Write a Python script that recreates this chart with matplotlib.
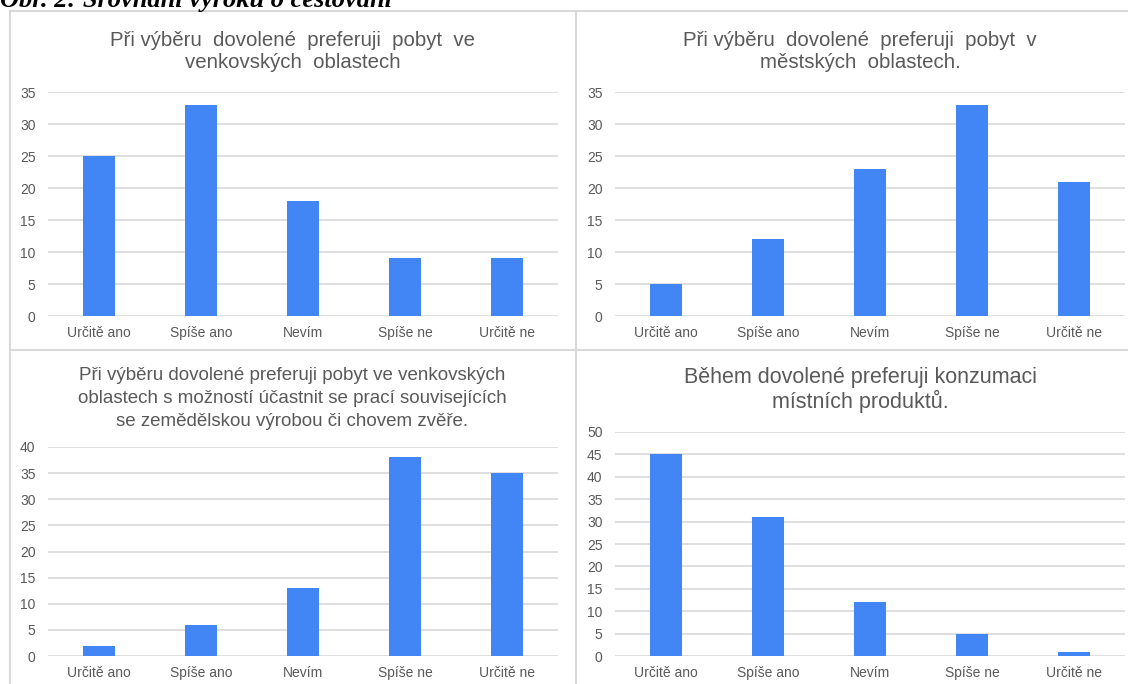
import matplotlib as mpl
import matplotlib.pyplot as plt
from matplotlib.lines import Line2D

mpl.use('Agg')

categories = ['Určitě ano', 'Spíše ano', 'Nevím', 'Spíše ne', 'Určitě ne']

venkov = [25, 33, 18, 9, 9]
mesto = [5, 12, 23, 33, 21]
prace = [2, 6, 13, 38, 35]
produkty = [45, 31, 12, 5, 1]

title_venkov = ['Při výběru  dovolené  preferuji  pobyt  ve', 'venkovských  oblastech']
title_mesto = ['Při výběru  dovolené  preferuji  pobyt  v', 'městských  oblastech.']
title_prace = ['Při výběru dovolené preferuji pobyt ve venkovských',
               'oblastech s možností účastnit se prací souvisejících',
               'se zemědělskou výrobou či chovem zvěře.']
title_produkty = ['Během dovolené preferuji konzumaci', 'místních produktů.']

W, H = 1128, 684
BAR = '#4285f4'
TXT = '#595959'
GRID = '#d9d9d9'

plt.rcParams['font.family'] = ['Liberation Sans', 'DejaVu Sans']

fig = plt.figure(figsize=(W / 100, H / 100), dpi=100)


def px_line(x0, y0, x1, y1):
    fig.add_artist(Line2D([x0 / W, x1 / W], [1 - y0 / H, 1 - y1 / H],
                          color=GRID, lw=1.5, transform=fig.transFigure))


def title(lines, cx, y0, step, size):
    # one fig.text per line, placed on its baseline
    for i, line in enumerate(lines):
        fig.text(cx / W, 1 - (y0 + i * step) / H, line, ha='center', va='baseline',
                 color=TXT, fontsize=size)


def panel(left, right, top, bottom, values, ymax):
    ax = fig.add_axes([left / W, 1 - bottom / H, (right - left) / W, (bottom - top) / H])
    x = range(len(categories))
    ax.bar(x, values, width=0.31, color=BAR, zorder=3)
    ax.set_xlim(-0.5, len(categories) - 0.5)
    ax.set_ylim(0, ymax)
    ax.set_yticks(range(0, ymax + 1, 5))
    ax.set_xticks(list(x))
    ax.set_xticklabels(categories)
    ax.grid(axis='y', color=GRID, lw=1.2, zorder=0)
    for s in ax.spines.values():
        s.set_visible(False)
    ax.tick_params(length=0, colors=TXT, labelsize=10)
    ax.tick_params(axis='x', pad=7)
    ax.tick_params(axis='y', pad=9)
    return ax


# frame lines
px_line(10, 11, W, 11)
px_line(10, 11, 10, H)
px_line(576, 11, 576, H)
px_line(10, 350, W, 350)

panel(48, 558, 92, 316, venkov, 35)
panel(615, 1125, 92, 316, mesto, 35)
panel(48, 558, 447, 656, prace, 40)
panel(615, 1125, 432, 656, produkty, 50)

title(title_venkov, 293, 46, 22.5, 14.7)
title(title_mesto, 860, 46, 22.5, 14.7)
title(title_prace, 292, 380, 23, 13.5)
title(title_produkty, 860, 383, 25, 15.5)

fig.text(0.0, 1 - 7 / H, 'Obr. 2: Srovnání výroků o cestování', ha='left', va='baseline',
         fontsize=19, fontweight='bold', fontstyle='italic',
         family=['Liberation Serif', 'DejaVu Serif'], color='black')

fig.savefig('out.png', dpi=100)
